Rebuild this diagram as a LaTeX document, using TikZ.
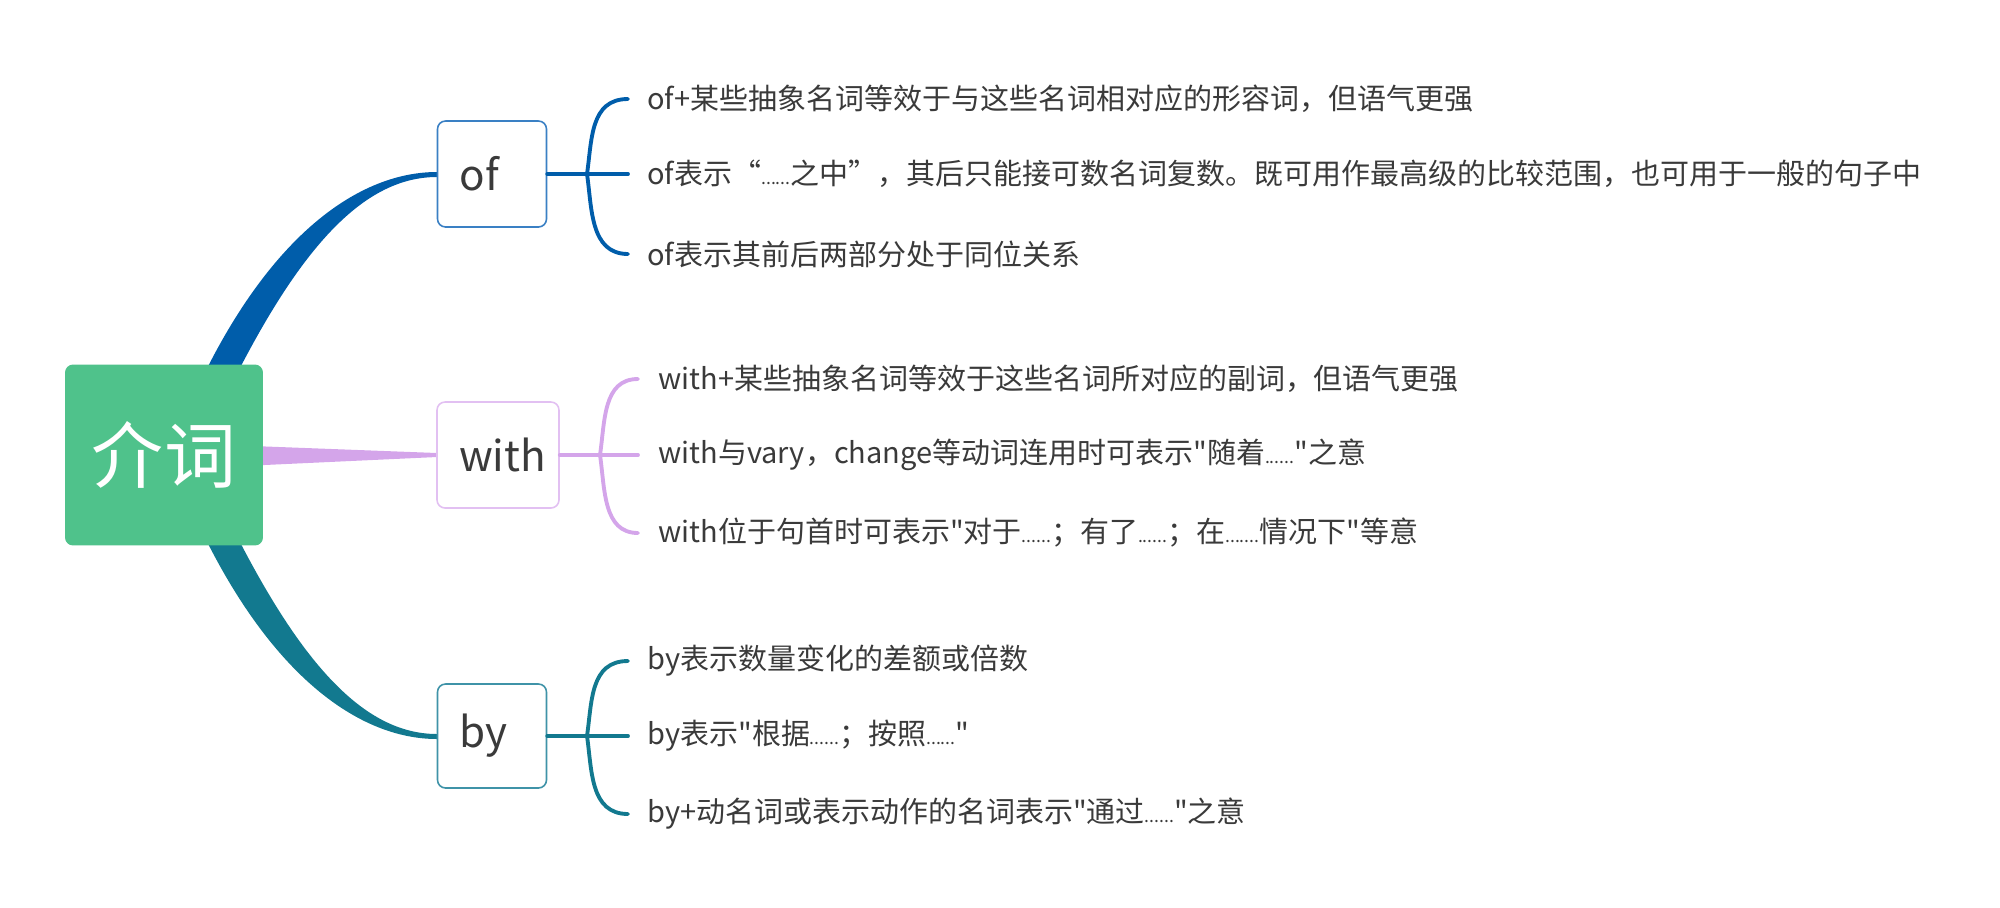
\documentclass[tikz,border=0pt]{standalone}
\usepackage{fontspec}
\setmainfont{Noto Sans CJK SC}
\usetikzlibrary{positioning}

\definecolor{rootgreen}{HTML}{4FC28B}
\definecolor{ofblue}{HTML}{005DAA}
\definecolor{ofline}{HTML}{3A80C4}
\definecolor{withpurple}{HTML}{D4A5EA}
\definecolor{withline}{HTML}{E2C0F2}
\definecolor{byteal}{HTML}{12798F}
\definecolor{byline}{HTML}{3F93A8}
\definecolor{leafgray}{HTML}{3A3A3A}

% small dots and straight quotes as in the leaf texts
\newcommand{\smalldots}[1]{{\fontsize{10}{12}\selectfont #1}}
\newcommand{\sq}{\textquotedbl}

\tikzset{
  rootbox/.style={rectangle, rounded corners=0.16cm, fill=rootgreen, text=white,
    font=\fontsize{41}{48}\selectfont, minimum width=3.96cm, minimum height=3.62cm},
  subbox/.style={rectangle, rounded corners=0.16cm, draw=#1, line width=0.9pt, fill=white,
    text=leafgray, font=\fontsize{24}{28}\selectfont, minimum height=2.12cm,
    inner xsep=0.44cm, align=left},
  leaf/.style={anchor=west, inner sep=0pt, text=leafgray, font=\fontsize{16.5}{20}\selectfont},
  brace/.style={draw=#1, line width=2.2pt, line cap=round},
}

\begin{document}
\begin{tikzpicture}[x=0.02cm, y=-0.02cm]
\useasboundingbox (0,0) rectangle (2000,907);

% branches, drawn first so the boxes cover their ends
\fill[ofblue] (175,440) .. controls (250,250) and (350,172) .. (437,172)
  -- (437,177) .. controls (355,177) and (285,265) .. (205,440) -- cycle;
\fill[withpurple] (200,444) -- (437,453) -- (437,457) -- (200,468) -- cycle;
\fill[byteal] (175,470) .. controls (250,660) and (350,739) .. (437,739)
  -- (437,734) .. controls (355,734) and (285,645) .. (205,470) -- cycle;

% main topic and sub topics
\node[rootbox] (prep) at (164,455) {介词};
\node[subbox=ofline, text width=1.3cm] (nof) at (492,174) {of};
\node[subbox=withline, text width=1.56cm] (nwith) at (498,455) {with};
\node[subbox=byline, text width=1.3cm, minimum height=2.08cm] (nby) at (492,736) {by};

% of
\coordinate (ofk) at (587,174);
\coordinate (ofa1) at (628,99);
\coordinate (ofa2) at (628,174);
\coordinate (ofa3) at (628,254);
\draw[brace=ofblue] (nof.east) -- (ofa2);
\draw[brace=ofblue] (ofk) .. controls (592,140) and (590,99) .. (ofa1);
\draw[brace=ofblue] (ofk) .. controls (592,208) and (590,254) .. (ofa3);
\node[leaf, right=0.38cm of ofa1] (of1) {of+某些抽象名词等效于与这些名词相对应的形容词，但语气更强};
\node[leaf, right=0.38cm of ofa2] (of2) {of表示“\smalldots{......}之中”，其后只能接可数名词复数。既可用作最高级的比较范围，也可用于一般的句子中};
\node[leaf, right=0.38cm of ofa3] (of3) {of表示其前后两部分处于同位关系};

% with
\coordinate (withk) at (600,455);
\coordinate (witha1) at (638,379);
\coordinate (witha2) at (638,455);
\coordinate (witha3) at (638,533);
\draw[brace=withpurple] (nwith.east) -- (witha2);
\draw[brace=withpurple] (withk) .. controls (605,421) and (603,379) .. (witha1);
\draw[brace=withpurple] (withk) .. controls (605,489) and (603,533) .. (witha3);
\node[leaf, right=0.4cm of witha1] (with1) {with+某些抽象名词等效于这些名词所对应的副词，但语气更强};
\node[leaf, right=0.4cm of witha2] (with2) {with与vary，change等动词连用时可表示\sq 随着\smalldots{......}\sq 之意};
\node[leaf, right=0.4cm of witha3] (with3) {with位于句首时可表示\sq 对于\smalldots{......}；有了\smalldots{......}；在\smalldots{.......}情况下\sq 等意};

% by
\coordinate (byk) at (587,736);
\coordinate (bya1) at (628,661);
\coordinate (bya2) at (628,736);
\coordinate (bya3) at (628,814);
\draw[brace=byteal] (nby.east) -- (bya2);
\draw[brace=byteal] (byk) .. controls (592,702) and (590,661) .. (bya1);
\draw[brace=byteal] (byk) .. controls (592,770) and (590,814) .. (bya3);
\node[leaf, right=0.38cm of bya1] (by1) {by表示数量变化的差额或倍数};
\node[leaf, right=0.38cm of bya2] (by2) {by表示\sq 根据\smalldots{......}；按照\smalldots{......}\sq};
\node[leaf, right=0.38cm of bya3] (by3) {by+动名词或表示动作的名词表示\sq 通过\smalldots{......}\sq 之意};
\end{tikzpicture}
\end{document}
